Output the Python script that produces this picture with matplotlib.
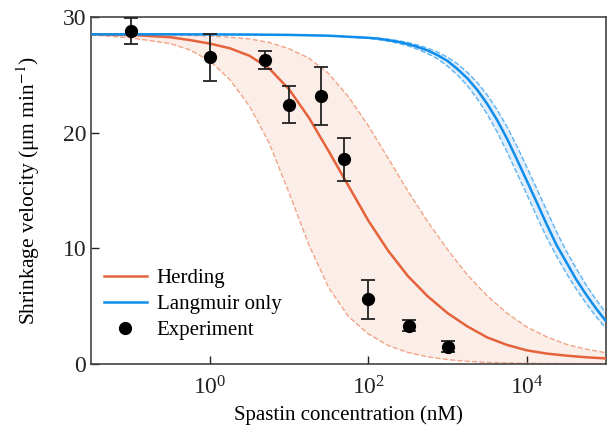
import numpy as np
import matplotlib
matplotlib.use('Agg')
import matplotlib.pyplot as plt
from matplotlib.lines import Line2D

plt.rcParams['font.family'] = ['Liberation Serif', 'DejaVu Serif']
plt.rcParams['mathtext.fontset'] = 'stix'

# experiment points
exp_conc = [0.1, 1, 5, 10, 25, 50, 100, 330, 1000]
exp_speed = [28.8, 26.5, 26.3, 22.4, 23.2, 17.7, 5.6, 3.3, 1.5]
exp_err = [1.15, 2.05, 0.8, 1.6, 2.5, 1.85, 1.7, 0.47, 0.5]

log_conc = [-1.5, -1.0, -0.5, -0.25, 0.0, 0.25, 0.5, 0.75, 1.0, 1.25, 1.5, 1.75,
            2.0, 2.25, 2.5, 2.75, 3.0, 3.25, 3.5, 3.75, 4.0, 4.25, 4.5, 4.75, 5.0]
herding = [28.5, 28.45, 28.25, 28.0, 27.7, 27.3, 26.65, 25.55, 23.75, 21.3, 18.4, 15.4,
           12.4, 9.8, 7.6, 5.85, 4.4, 3.25, 2.3, 1.65, 1.18, 0.9, 0.72, 0.58, 0.48]
herding_hi = [28.5, 28.5, 28.45, 28.4, 28.35, 28.25, 28.1, 27.8, 27.25, 26.45, 25.1, 23.1,
              20.6, 17.8, 14.95, 12.3, 9.9, 7.7, 5.9, 4.4, 3.2, 2.35, 1.7, 1.28, 0.97]
herding_lo = [28.45, 28.2, 27.7, 27.15, 26.2, 24.6, 22.3, 19.1, 14.8, 10.3, 6.6, 4.1,
              2.6, 1.6, 1.0, 0.62, 0.38, 0.23, 0.14, 0.09, 0.06, 0.04, 0.03, 0.02, 0.02]

# langmuir model, finer steps where it drops
blue_log_conc = [-1.5, -0.5, 0.5, 1.0, 1.5,
                 2.0, 2.125, 2.25, 2.375, 2.5, 2.625, 2.75, 2.875, 3.0, 3.125, 3.25, 3.375,
                 3.5, 3.625, 3.75, 3.875, 4.0, 4.125, 4.25, 4.375, 4.5, 4.625, 4.75, 4.875, 5.0]
langmuir = [28.5, 28.5, 28.48, 28.45, 28.38,
            28.2, 28.13, 28.0, 27.86, 27.66, 27.41, 27.1, 26.7, 26.2, 25.5, 24.7, 23.7,
            22.5, 21.1, 19.5, 17.7, 15.85, 14.0, 12.1, 10.3, 8.8, 7.3, 6.0, 4.8, 3.7]
langmuir_hi = [28.5, 28.5, 28.48, 28.45, 28.38,
               28.2, 28.15, 28.08, 27.95, 27.79, 27.57, 27.3, 26.96, 26.52, 25.95, 25.21, 24.34,
               23.27, 22.0, 20.52, 18.85, 17.03, 15.18, 13.32, 11.45, 9.76, 8.26, 6.83, 5.57, 4.4]
langmuir_lo = [28.5, 28.5, 28.48, 28.45, 28.38,
               28.16, 28.05, 27.91, 27.73, 27.5, 27.21, 26.84, 26.38, 25.75, 24.99, 24.06, 22.93,
               21.6, 20.08, 18.35, 16.52, 14.67, 12.78, 10.95, 9.34, 7.84, 6.47, 5.23, 4.1, 3.06]

orange = '#E5623A'
orange_light = '#F2A487'
blue = '#0E8EEA'
blue_light = '#5AB3F2'

conc = 10 ** np.array(log_conc)
blue_conc = 10 ** np.array(blue_log_conc)

fig = plt.figure(figsize=(6.09, 4.33), dpi=100)
ax = fig.add_axes([0.1494, 0.1594, 0.8456, 0.8014])

ax.fill_between(conc, herding_lo, herding_hi, color='#FBEBE4', alpha=0.85, lw=0, zorder=1)
ax.plot(conc, herding_hi, '--', color=orange_light, lw=1.0, zorder=2)
ax.plot(conc, herding_lo, '--', color=orange_light, lw=1.0, zorder=2)

ax.fill_between(blue_conc, langmuir_lo, langmuir_hi, color='#E3EEFC', lw=0, zorder=1)
ax.plot(blue_conc, langmuir_hi, '--', color=blue_light, lw=1.0, zorder=2)
ax.plot(blue_conc, langmuir_lo, '--', color=blue_light, lw=1.0, zorder=2)

ax.plot(conc, herding, color=orange, lw=1.8, zorder=3)
ax.plot(blue_conc, langmuir, color=blue, lw=1.8, zorder=4)

ax.errorbar(exp_conc, exp_speed, yerr=exp_err, fmt='o', color='black', ecolor='#222222',
            ms=8.5, elinewidth=1.3, capsize=4.8, capthick=1.3, zorder=5)

ax.set_xscale('log')
ax.set_xlim(10 ** -1.5, 1e5)
ax.set_ylim(0, 30)
ax.set_xticks([1, 100, 1e4])
ax.xaxis.set_minor_locator(matplotlib.ticker.NullLocator())
ax.set_yticks([0, 10, 20, 30])
ax.tick_params(direction='in', length=6, width=1, labelsize=17, colors='#222222')
ax.tick_params(axis='x', pad=9)
for s in ax.spines.values():
    s.set_color('#444444')
    s.set_linewidth(1.2)

ax.set_xlabel('Spastin concentration (nM)', fontsize=15, labelpad=4)
ax.set_ylabel('Shrinkage velocity (\u03bcm min$^{-1}$)', fontsize=15.5, labelpad=15)

handles = [Line2D([], [], color=orange, lw=1.8),
           Line2D([], [], color=blue, lw=1.8),
           Line2D([], [], ls='none', marker='o', color='black', ms=8.5)]
ax.legend(handles, ['Herding', 'Langmuir only', 'Experiment'],
          loc='lower left', bbox_to_anchor=(-0.012, 0.015), frameon=False, fontsize=15,
          handlelength=2.1, handletextpad=0.45, labelspacing=0.3)

fig.savefig('out.png', dpi=100)
